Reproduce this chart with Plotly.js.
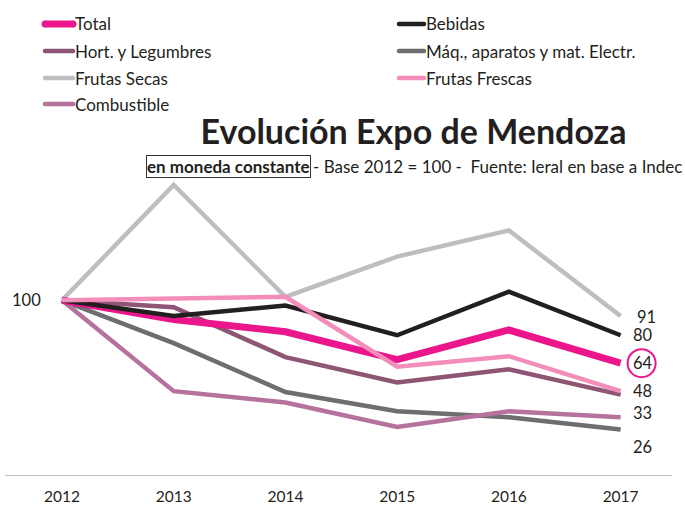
<!DOCTYPE html>
<html>
<head>
<meta charset="utf-8">
<script src="https://cdn.plot.ly/plotly-3.0.1.min.js"></script>
<style>html,body{margin:0;padding:0;background:#fff;}#chart{width:685px;height:506px;}</style>
</head>
<body>
<div id="chart"></div>
<script>
// ---- data ----
const years = [2012, 2013, 2014, 2015, 2016, 2017];
const seriesNames = ["Total", "Bebidas", "Hort. y Legumbres", "Máq., aparatos y mat. Electr.", "Frutas Secas", "Frutas Frescas", "Combustible"];
const total = [100, 89, 82, 66, 83, 64];
const bebidas = [100, 91, 97, 80, 105, 80];
const hortLegumbres = [100, 96, 67.5, 53, 60.5, 46];
const maqAparatos = [100, 75.5, 47.5, 36.5, 33, 26];
const frutasSecas = [100, 166, 102, 125, 140, 91];
const frutasFrescas = [100, 101, 102, 62, 68, 48];
const combustible = [100, 48, 41.5, 27.5, 36.5, 33];
const endLabels = ["64", "80", null, "26", "91", "48", "33"];
const baseLabel = "100";
const titleText = "Evolución Expo de Mendoza";
const boxedText = "en moneda constante";
const subtitleText = "- Base 2012 = 100 -\u00a0 Fuente: Ieral en base a Indec";

const seriesValues = [total, bebidas, hortLegumbres, maqAparatos, frutasSecas, frutasFrescas, combustible];

// ---- styles ----
const FONT = "Lato, 'Open Sans', sans-serif";
const TXT = "#231F20";
const colors = ["#EC168C", "#231F20", "#8E5674", "#6D6E71", "#BCBEC0", "#F38DB9", "#B5729C"];
const widths = [7, 4.5, 4.5, 4.5, 4.5, 4.5, 4.5];
const drawOrder = [4, 3, 6, 2, 0, 1, 5];
const labelShift = {0: [10, 0], 1: [10, 0], 3: [10, -17], 4: [14, -1], 5: [10, 0], 6: [10, 4]};

const W = 685, H = 506;
const M = {l: 5, r: 13, t: 178, b: 31};
const pw = W - M.l - M.r, ph = H - M.t - M.b;
const px = x => (x - M.l) / pw;
const py = y => (H - M.b - y) / ph;

const traces = drawOrder.map(i => ({
  type: 'scatter', mode: 'lines', x: years, y: seriesValues[i], name: seriesNames[i],
  line: {color: colors[i], width: widths[i], shape: 'linear'},
  showlegend: false, hoverinfo: 'skip'
}));

const annotations = [];
const shapes = [];

// end labels
seriesNames.forEach((n, i) => {
  if (!endLabels[i]) return;
  const s = labelShift[i] || [10, 0];
  annotations.push({
    x: years[years.length - 1], y: seriesValues[i][years.length - 1], xref: 'x', yref: 'y',
    text: endLabels[i], showarrow: false, xanchor: 'left', yanchor: 'middle',
    xshift: s[0], yshift: s[1], font: {family: FONT, size: 16.5, color: TXT}
  });
});
// circle around Total end label
shapes.push({
  type: 'circle', xref: 'x', yref: 'y', xsizemode: 'pixel', ysizemode: 'pixel',
  xanchor: years[years.length - 1], yanchor: total[total.length - 1],
  x0: 7, x1: 35, y0: -14, y1: 14, line: {color: colors[0], width: 2}
});
// base label
annotations.push({
  x: years[0], y: seriesValues[0][0], xref: 'x', yref: 'y', text: baseLabel, showarrow: false,
  xanchor: 'right', yanchor: 'middle', xshift: -19, font: {family: FONT, size: 16.5, color: TXT}
});

// legend (custom, two columns)
const legCols = [[43, 75], [397, 426]];
const legRows = [24, 51, 78, 104];
const legOrder = [0, 1, 2, 3, 4, 5, 6];
legOrder.forEach((i, k) => {
  const col = k % 2, row = Math.floor(k / 2);
  const [x0, x1] = legCols[col];
  const y = legRows[row];
  const r = i === 0 ? 3.5 : 2.25;
  shapes.push({type: 'line', xref: 'paper', yref: 'paper', x0: px(x0 + 2), x1: px(x1 - 2), y0: py(y), y1: py(y),
    line: {color: colors[i], width: i === 0 ? 7 : 4.5}});
  [x0 + 2, x1 - 2].forEach(cx => shapes.push({type: 'circle', xref: 'paper', yref: 'paper', xsizemode: 'pixel', ysizemode: 'pixel',
    xanchor: px(cx), yanchor: py(y), x0: -r, x1: r, y0: -r, y1: r, fillcolor: colors[i], line: {width: 0}}));
  annotations.push({x: px(x1), y: py(y), xref: 'paper', yref: 'paper', text: seriesNames[i], showarrow: false,
    xanchor: 'left', yanchor: 'middle', borderpad: 0, xshift: -1, font: {family: FONT, size: 17, color: TXT}});
});

// subtitle pieces
annotations.push({x: px(311), y: py(166), xref: 'paper', yref: 'paper', text: '<b>' + boxedText + '</b>', showarrow: false,
  xanchor: 'right', yanchor: 'middle', bordercolor: '#333', borderwidth: 1, borderpad: 0,
  font: {family: FONT, size: 17, color: TXT}});
annotations.push({x: px(312), y: py(166), xref: 'paper', yref: 'paper', text: subtitleText, showarrow: false,
  xanchor: 'left', yanchor: 'middle', borderpad: 0, font: {family: FONT, size: 17, color: TXT}});

const layout = {
  width: W, height: H, margin: M, paper_bgcolor: '#fff', plot_bgcolor: '#fff', showlegend: false,
  title: {text: '<b>' + titleText + '</b>', x: 413.5 / W, xanchor: 'center', xref: 'container',
    y: 1 - 132 / H, yanchor: 'middle', yref: 'container', font: {family: FONT, size: 34, color: TXT}},
  xaxis: {type: 'linear', range: [2011.49, 2017.46], tickvals: years, ticktext: years.map(String),
    showgrid: false, zeroline: false, showline: true, linecolor: '#BFBFBF', linewidth: 1.3,
    ticks: '', ticklabelstandoff: 7, tickfont: {family: FONT, size: 15.5, color: TXT}, fixedrange: true},
  yaxis: {range: [0, 170], showgrid: false, zeroline: false, showline: false, showticklabels: false, ticks: '', fixedrange: true},
  annotations: annotations, shapes: shapes
};

Plotly.newPlot('chart', traces, layout, {displayModeBar: false, staticPlot: true});
</script>
</body>
</html>
